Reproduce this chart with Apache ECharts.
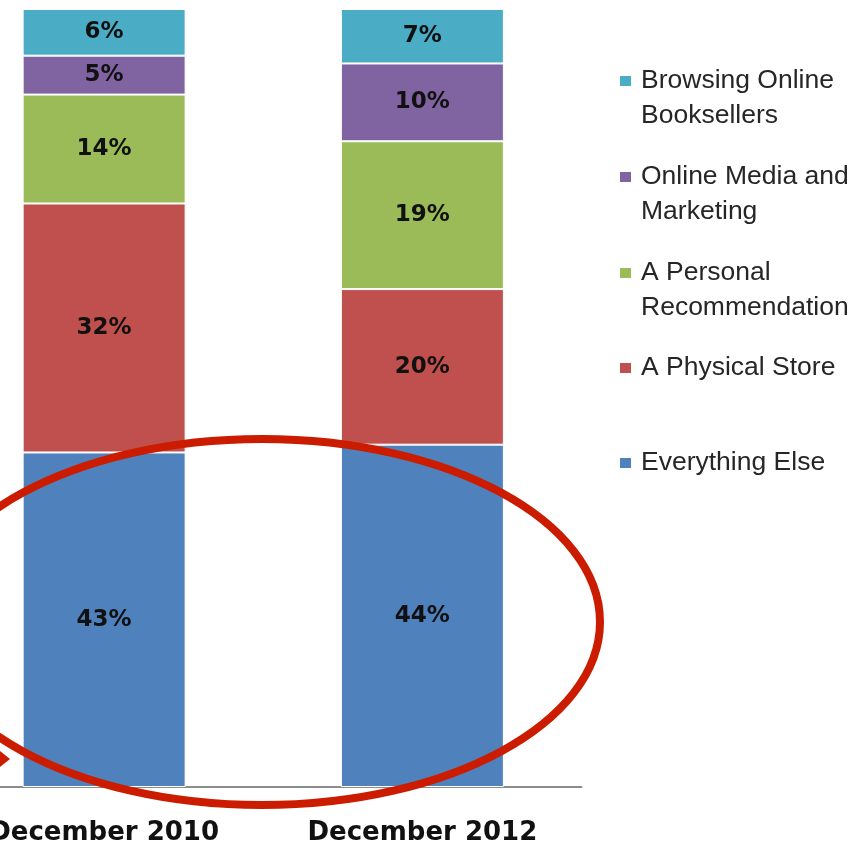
<!DOCTYPE html>
<html>
<head>
<meta charset="utf-8">
<script src="https://cdn.jsdelivr.net/npm/echarts@6/dist/echarts.min.js"></script>
<style>html,body{margin:0;padding:0;background:#fff;}#chart{width:865px;height:845px;}</style>
</head>
<body>
<div id="chart"></div>
<script>
// ---- data ----
const categories = ['December 2010', 'December 2012'];
const seriesNames = ['Everything Else', 'A Physical Store', 'A Personal Recommendation', 'Online Media and Marketing', 'Browsing Online Booksellers'];
const everythingElse = [43, 44];
const physicalStore = [32, 20];
const personalRecommendation = [14, 19];
const onlineMedia = [5, 10];
const browsingOnline = [6, 7];
const legendLines = {
  'Browsing Online Booksellers': ['Browsing Online', 'Booksellers'],
  'Online Media and Marketing': ['Online Media and', 'Marketing'],
  'A Personal Recommendation': ['A Personal', 'Recommendation'],
  'A Physical Store': ['A Physical Store'],
  'Everything Else': ['Everything Else']
};

const values = [everythingElse, physicalStore, personalRecommendation, onlineMedia, browsingOnline];
const colors = ['#4F81BD', '#C0504D', '#9BBB59', '#8064A2', '#4BACC6'];

const chart = echarts.init(document.getElementById('chart'), null, {renderer: 'canvas'});

const series = seriesNames.map((n, i) => ({
  name: n,
  type: 'bar',
  stack: 'total',
  barWidth: 163,
  data: values[i],
  itemStyle: {color: colors[i], borderColor: '#ffffff', borderWidth: 1},
  label: {
    show: true,
    position: 'inside',
    formatter: '{c}%',
    fontFamily: 'DejaVu Sans',
    fontWeight: 'bold',
    fontSize: 23,
    color: '#111111'
  },
  emphasis: {disabled: true}
}));

// legend placement: centre y of first text line of each entry
const legendOrder = ['Browsing Online Booksellers', 'Online Media and Marketing', 'A Personal Recommendation', 'A Physical Store', 'Everything Else'];
const firstLineY = [81, 177, 273, 368, 463];
const LH = 35;
const legends = legendOrder.map((n, i) => {
  const lines = legendLines[n];
  const twoLine = lines.length > 1;
  const blockH = twoLine ? LH * 3 : LH;
  return {
    data: [n],
    orient: 'vertical',
    left: 618,
    top: firstLineY[i] - blockH / 2,
    padding: 0,
    itemWidth: 13,
    itemHeight: 12,
    icon: 'rect',
    selectedMode: false,
    formatter: function (name) {
      const l = legendLines[name];
      return l.length > 1 ? '\n' + l.join('\n') : l[0];
    },
    textStyle: {
      fontFamily: 'Liberation Sans',
      fontSize: 26.5,
      lineHeight: LH,
      color: '#262626',
      padding: [0, 0, 0, 4]
    }
  };
});

chart.setOption({
  animation: false,
  backgroundColor: '#ffffff',
  grid: {left: -55, right: 283.5, top: 9, bottom: 58, containLabel: false, outerBoundsMode: 'none'},
  xAxis: {
    type: 'category',
    data: categories,
    axisLine: {show: true, lineStyle: {color: '#8c8c8c', width: 2}},
    axisTick: {show: false},
    axisLabel: {
      margin: 33,
      fontFamily: 'DejaVu Sans',
      fontWeight: 'bold',
      fontSize: 26,
      color: '#111111',
      interval: 0
    }
  },
  yAxis: {
    type: 'value',
    min: 0,
    max: 100,
    show: false,
    splitLine: {show: false}
  },
  legend: legends,
  series: series,
  graphic: [
    {
      type: 'ellipse',
      z: 100,
      silent: true,
      shape: {cx: 262, cy: 622, rx: 338, ry: 183},
      style: {fill: 'none', stroke: '#CC1C00', lineWidth: 8}
    },
    {
      type: 'polygon',
      z: 100,
      silent: true,
      shape: {points: [[0, 751], [10, 759], [0, 767]]},
      style: {fill: '#CC1C00'}
    }
  ]
});
</script>
</body>
</html>
